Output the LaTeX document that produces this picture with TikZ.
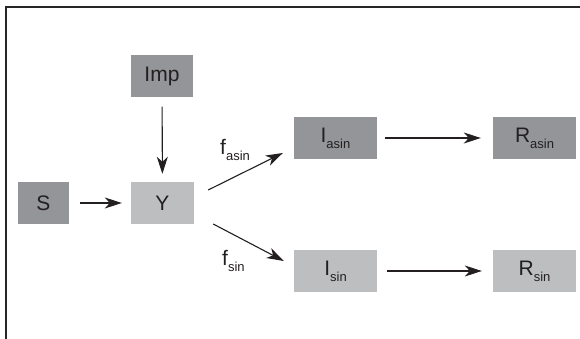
\documentclass[tikz,border=0pt]{standalone}
\usepackage{fontspec}
\setmainfont{Liberation Sans}
\usetikzlibrary{arrows.meta, calc}
\definecolor{darkc}{HTML}{939598}
\definecolor{lightc}{HTML}{BCBEC0}
\definecolor{inkc}{HTML}{231F20}
\tikzset{
  box/.style={draw=none, inner sep=0pt, text=inkc, font=\fontsize{21}{21}\selectfont,
              minimum height=42pt},
  dbox/.style={box, fill=darkc},
  lbox/.style={box, fill=lightc},
  frame/.style={draw=black!85, line width=1.5pt},
  arr/.style={-{Stealth[length=17pt, width=11pt, inset=5pt]}, line width=1.1pt, draw=inkc},
  lbl/.style={font=\fontsize{21}{21}\selectfont, text=inkc, inner sep=0pt},
}
\newcommand{\subtxt}[1]{\raisebox{-6pt}{\fontsize{13}{13}\selectfont #1}}

\begin{document}
\begin{tikzpicture}[x=1pt, y=1pt]
\useasboundingbox (0,0) rectangle (580,339);
\draw[frame] (580,332) -- (6,332) -- (6,0);

% compartments
\node[dbox, minimum width=62pt] (imp) at (162,262.5) {Imp};
\node[dbox, minimum width=51pt] (s) at (43.5,136) {S};
\node[lbox, minimum width=63pt] (y) at (162.5,136) {Y};
\node[dbox, minimum width=83pt] (iasin) at (335.5,201) {I\subtxt{asin}};
\node[dbox, minimum width=83pt] (rasin) at (534.5,201) {R\subtxt{asin}};
\node[lbox, minimum width=83pt] (isin) at (335.5,68) {I\subtxt{sin}};
\node[lbox, minimum width=83pt] (rsin) at (534.5,68) {R\subtxt{sin}};

% flows
\draw[arr, shorten <=11pt, shorten >=9pt] (s) -- (y);
\draw[arr, shorten <=9pt, shorten >=8pt] (imp) -- (y);
\draw[arr, shorten <=8pt, shorten >=12pt] (iasin) -- (rasin);
\draw[arr, shorten <=10pt, shorten >=11pt] (isin) -- (rsin);

% the split after Y
\coordinate (ya) at ($(y.east)+(14,13)$);
\coordinate (ia) at ($(iasin.west)+(-11,-15)$);
\coordinate (ys) at ($(y.east)+(19,-21)$);
\coordinate (is) at ($(isin.west)+(-10,10)$);
\draw[arr] (ya) -- (ia);
\draw[arr] (ys) -- (is);
\node[lbl, anchor=north west] (fa) at (220,200) {f\subtxt{asin}};
\node[lbl, anchor=north west] (fs) at (222,89) {f\subtxt{sin}};
\end{tikzpicture}
\end{document}
